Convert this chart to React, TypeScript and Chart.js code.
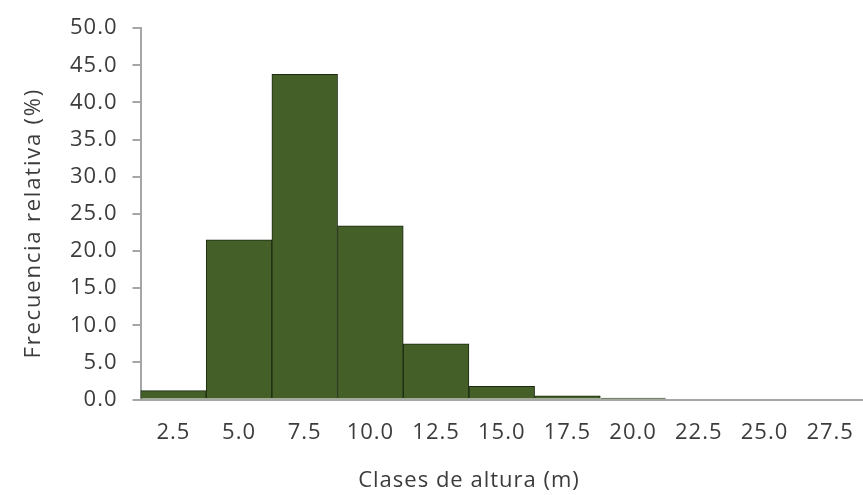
import React, { useEffect, useRef } from "react";
import { Chart, registerables } from "chart.js";

Chart.register(...registerables);

const categories = ["2.5", "5.0", "7.5", "10.0", "12.5", "15.0", "17.5", "20.0", "22.5", "25.0", "27.5"];
const frecuencia = [1.2, 21.5, 43.8, 23.4, 7.5, 1.8, 0.5, 0.2, 0, 0, 0];
const yTicks = [0, 5, 10, 15, 20, 25, 30, 35, 40, 45, 50];
const xTitle = "Clases de altura (m)";
const yTitle = "Frecuencia relativa (%)";

const FONT_FAMILY = "'Open Sans', sans-serif";
const TEXT_COLOR = "#3c3c3c";
const SPACING = "1px";

const spacingPlugin = {
  id: "spacing",
  beforeUpdate(chart: any) {
    chart.ctx.letterSpacing = SPACING;
  },
  beforeLayout(chart: any) {
    chart.ctx.letterSpacing = SPACING;
  },
  beforeDraw(chart: any) {
    chart.ctx.letterSpacing = SPACING;
  },
  afterDraw(chart: any) {
    const ctx = chart.ctx;
    const area = chart.chartArea;
    ctx.save();
    ctx.font = `22px ${FONT_FAMILY}`;
    ctx.fillStyle = TEXT_COLOR;
    ctx.textAlign = "center";
    ctx.textBaseline = "middle";
    // x title
    ctx.letterSpacing = "1px";
    ctx.fillText(xTitle, 469, 481);
    // y title
    ctx.letterSpacing = "1.8px";
    ctx.translate(34, area.top + (area.bottom - area.top) * 0.525);
    ctx.rotate(-Math.PI / 2);
    ctx.fillText(yTitle, 0, 0);
    ctx.restore();
  },
};

export default function App() {
  const ref = useRef<HTMLCanvasElement>(null);
  useEffect(() => {
    if (!ref.current) return;
    const font = { family: FONT_FAMILY, size: 22 };
    const chart = new Chart(ref.current, {
      type: "bar",
      data: {
        labels: categories,
        datasets: [
          {
            data: frecuencia,
            backgroundColor: "#445f28",
            borderColor: "#1c2a12",
            borderWidth: 1,
            barPercentage: 1,
            categoryPercentage: 1,
          },
        ],
      },
      options: {
        animation: false,
        responsive: true,
        maintainAspectRatio: false,
        layout: { padding: { top: 10, right: 0, left: 55, bottom: 41 } },
        plugins: { legend: { display: false }, tooltip: { enabled: false } },
        scales: {
          x: {
            grid: { display: true, drawOnChartArea: false, drawTicks: true, tickLength: 12, color: "rgba(0,0,0,0)" },
            border: { display: true, color: "#a6a6a6", width: 2 },
            ticks: { color: TEXT_COLOR, font, padding: 8, maxRotation: 0, autoSkip: false },
          },
          y: {
            min: 0,
            max: 50,
            afterBuildTicks: (axis: any) => {
              axis.ticks = yTicks.map((v) => ({ value: v }));
            },
            grid: { drawOnChartArea: false, drawTicks: true, tickLength: 8, color: "#a6a6a6", lineWidth: 2 },
            border: { display: true, color: "#a6a6a6", width: 2 },
            ticks: {
              color: TEXT_COLOR,
              font,
              padding: 15,
              callback: (v: any) => Number(v).toFixed(1),
            },
          },
        },
      },
      plugins: [spacingPlugin],
    });
    return () => chart.destroy();
  }, []);
  return (
    <div style={{ position: "fixed", left: 0, top: 0, width: 863, height: 495, background: "#fff" }}>
      <canvas ref={ref} />
    </div>
  );
}
